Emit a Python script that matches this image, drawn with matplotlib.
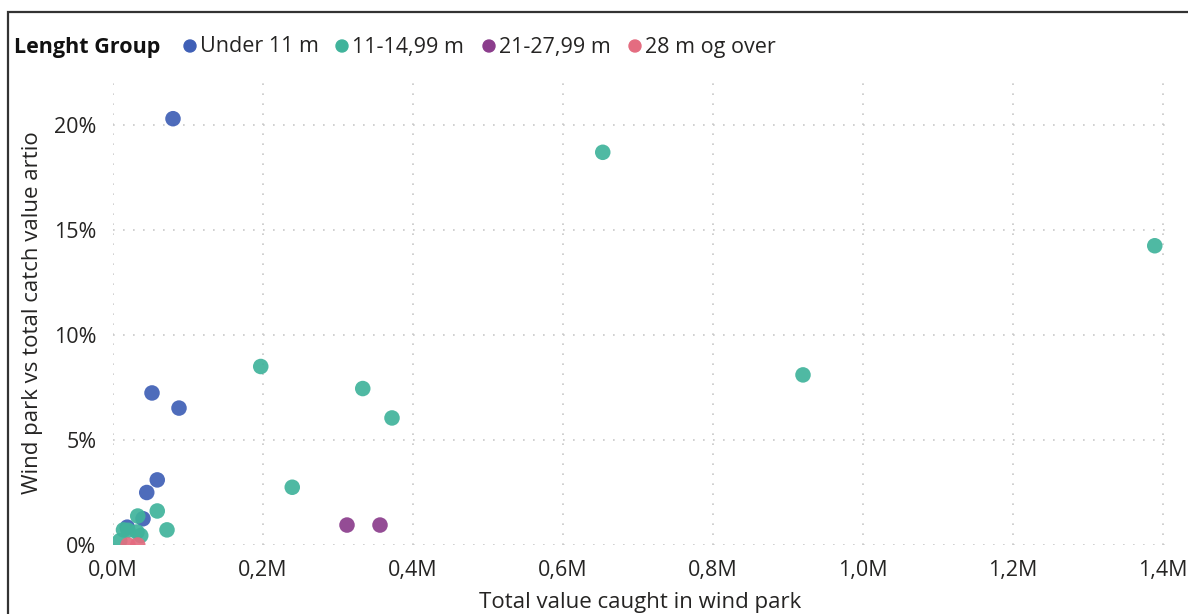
import matplotlib.pyplot as plt
import matplotlib.patches as mpatches
from matplotlib.ticker import FuncFormatter, MultipleLocator

plt.rcParams['font.family'] = ['Open Sans', 'DejaVu Sans']

# Data (x in million NOK-ish value, y in percent)
groups = ['Under 11 m', '11-14,99 m', '21-27,99 m', '28 m og over']
colors = ['#3F5FB6', '#40B39B', '#8B3D8C', '#E46C80']

under11_x = [0.080, 0.052, 0.088, 0.059, 0.045, 0.040, 0.019]
under11_y = [20.3, 7.24, 6.52, 3.10, 2.50, 1.25, 0.85]

mid_x = [0.653, 1.389, 0.920, 0.197, 0.333, 0.372, 0.239, 0.059, 0.072,
         0.033, 0.014, 0.020, 0.032, 0.037, 0.009]
mid_y = [18.7, 14.25, 8.10, 8.50, 7.45, 6.05, 2.75, 1.62, 0.72,
         1.38, 0.72, 0.70, 0.62, 0.45, 0.20]

large_x = [0.312, 0.356]
large_y = [0.95, 0.95]

xl_x = [0.020, 0.033]
xl_y = [0.0, 0.0]

series = [(under11_x, under11_y), (mid_x, mid_y), (large_x, large_y), (xl_x, xl_y)]

fig = plt.figure(figsize=(11.88, 6.14), dpi=100)
W, H = 1188, 614

# outer frame
fig.patches.append(mpatches.Rectangle((8 / W, -0.05), 1.2, 1 - 12 / H + 0.05,
                                      transform=fig.transFigure, fill=False,
                                      edgecolor='#333333', linewidth=1.6))

ax = fig.add_axes([113 / W, 1 - 545 / H, (1168 - 113) / W, (545 - 81) / H])

for (xs, ys), c, g in zip(series, colors, groups):
    ax.scatter([v * 1e6 for v in xs], ys, s=125, color=c, alpha=0.92,
               edgecolors='none', zorder=3, label=g)

ax.set_xlim(0, 1.4e6 * 1055 / 1050)
ax.set_ylim(0, (545 - 81) / 21)
ax.xaxis.set_major_locator(MultipleLocator(0.2e6))
ax.yaxis.set_major_locator(MultipleLocator(5))
ax.xaxis.set_major_formatter(FuncFormatter(lambda v, p: f'{v / 1e6:.1f}M'.replace('.', ',')))
ax.yaxis.set_major_formatter(FuncFormatter(lambda v, p: f'{v:.0f}%'))
ax.tick_params(length=0, labelsize=15.5, colors='#252423')
ax.tick_params(axis='y', pad=12)
ax.tick_params(axis='x', pad=11)
ax.grid(True, linestyle=(0, (1, 5)), color='#C8C8C8', linewidth=1.2)
ax.set_axisbelow(True)
for s in ax.spines.values():
    s.set_visible(False)

ax.set_xlabel('Total value caught in wind park', fontsize=16, color='#252423', labelpad=8)
ax.set_ylabel('Wind park vs total catch value artio', fontsize=16, color='#252423', labelpad=8)

# legend row
fig.text(14 / W, 1 - 47 / H, 'Lenght Group', fontsize=15.5, fontweight='bold',
         color='#111111', va='center', ha='left')
leg_x = [190, 342, 489, 635]
for lx, c, g in zip(leg_x, colors, groups):
    fig.patches.append(mpatches.Ellipse((lx / W, 1 - 46 / H), 12 / W, 12 / H,
                                        transform=fig.transFigure, color=c))
    fig.text((lx + 10) / W, 1 - 47 / H, g, fontsize=15.5, color='#252423',
             va='center', ha='left')

fig.savefig('out.png', dpi=100, facecolor='white')
